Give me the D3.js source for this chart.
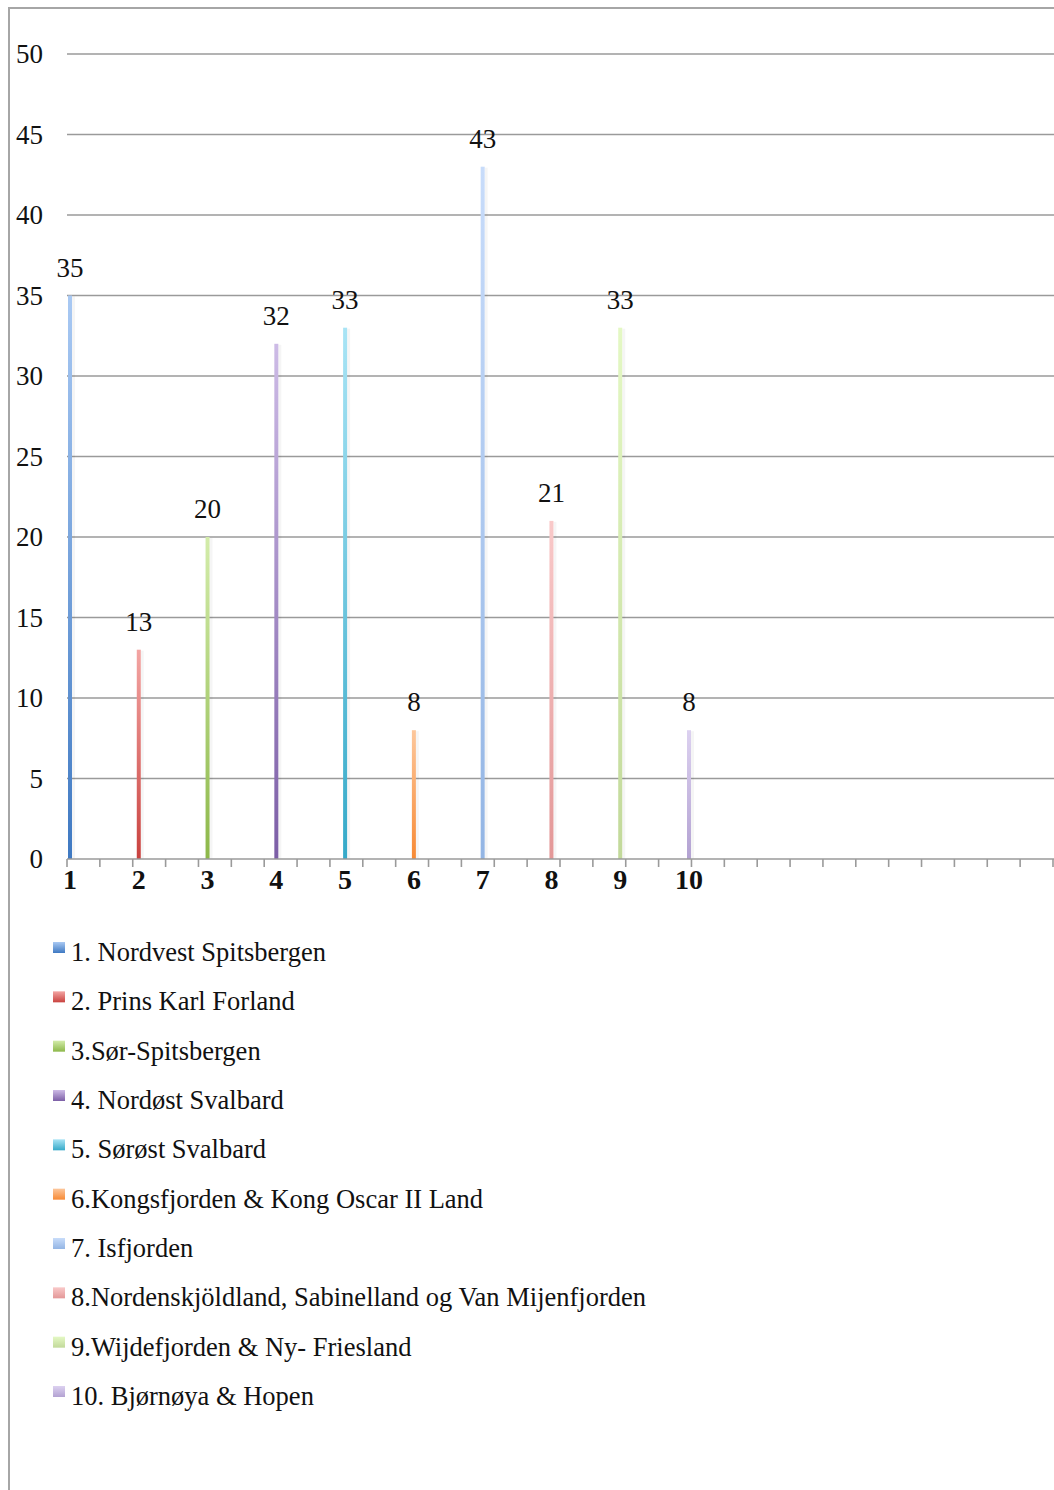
<!DOCTYPE html>
<html>
<head>
<meta charset="utf-8">
<script src="https://cdn.jsdelivr.net/npm/d3@7/dist/d3.min.js"></script>
<style>
  html, body { margin: 0; padding: 0; background: #fff; }
  svg { display: block; }
</style>
</head>
<body>
<svg id="chart" width="1054" height="1490"></svg>
<script>
// Region numbers along the axis
const categories = ["1", "2", "3", "4", "5", "6", "7", "8", "9", "10"];
// Counts per region
const values = [35, 13, 20, 32, 33, 8, 43, 21, 33, 8];
// Legend names
const seriesNames = [
  "1. Nordvest Spitsbergen",
  "2. Prins Karl Forland",
  "3.Sør-Spitsbergen",
  "4. Nordøst Svalbard",
  "5. Sørøst Svalbard",
  "6.Kongsfjorden & Kong Oscar II Land",
  "7. Isfjorden",
  "8.Nordenskjöldland, Sabinelland og Van Mijenfjorden",
  "9.Wijdefjorden & Ny- Friesland",
  "10. Bjørnøya & Hopen"
];
// Value axis ticks
const yTicks = [0, 5, 10, 15, 20, 25, 30, 35, 40, 45, 50];
// Bar colours: [base (bottom), light (top)]
const colors = [
  ["#3f79c2", "#a9c9f3"],
  ["#c9423f", "#f3a5a3"],
  ["#8db84a", "#d3ecaa"],
  ["#7c5ea6", "#cdbbe6"],
  ["#35a9c8", "#a9e4f5"],
  ["#f78a35", "#fcc79c"],
  ["#93b5e4", "#c8dcfa"],
  ["#e39797", "#f9c9c9"],
  ["#c2d99a", "#e4f8c4"],
  ["#b3a2d2", "#dcd1f0"]
];

const svg = d3.select("#chart");
const W = 1054;

// Outer frame
svg.append("rect")
  .attr("x", 9).attr("y", 8)
  .attr("width", W + 20).attr("height", 1600)
  .attr("fill", "none").attr("stroke", "#a6a6a6").attr("stroke-width", 2);

const plotLeft = 67, plotRight = 1054;
const y = d3.scaleLinear().domain([0, 50]).range([859, 54]);
const x = d3.scalePoint().domain(categories).range([70, 689]);
// Category slots of the horizontal axis (tick marks)
const tickScale = d3.scaleLinear().domain([0, 30]).range([67, 1053]);

const defs = svg.append("defs");
colors.forEach((c, i) => {
  const g = defs.append("linearGradient")
    .attr("id", "bar" + i).attr("x1", 0).attr("y1", 0).attr("x2", 0).attr("y2", 1);
  g.append("stop").attr("offset", "0%").attr("stop-color", c[1]);
  g.append("stop").attr("offset", "100%").attr("stop-color", c[0]);
  const s = defs.append("linearGradient")
    .attr("id", "sw" + i).attr("x1", 0).attr("y1", 0).attr("x2", 0).attr("y2", 1);
  s.append("stop").attr("offset", "0%").attr("stop-color", c[1]);
  s.append("stop").attr("offset", "100%").attr("stop-color", c[0]);
});

// Gridlines
svg.append("g").selectAll("line")
  .data(yTicks.filter(d => d > 0))
  .join("line")
  .attr("x1", plotLeft).attr("x2", plotRight)
  .attr("y1", d => y(d)).attr("y2", d => y(d))
  .attr("stroke", "#9a9a9a").attr("stroke-width", 1.6);

// Y tick labels
svg.append("g").selectAll("text")
  .data(yTicks)
  .join("text")
  .attr("x", 43).attr("y", d => y(d))
  .attr("dy", "0.34em")
  .attr("text-anchor", "end")
  .attr("font-family", "'Liberation Serif', serif")
  .attr("font-size", 27)
  .attr("fill", "#111")
  .text(d => d);

// Bars: soft shadow then gradient bar
const barW = 4;
const bars = svg.append("g");
bars.selectAll("rect.shadow")
  .data(values)
  .join("rect")
  .attr("class", "shadow")
  .attr("x", (d, i) => x(categories[i]) + barW / 2)
  .attr("y", d => y(d) + 1)
  .attr("width", 3)
  .attr("height", d => y(0) - y(d) - 1)
  .attr("fill", "#000").attr("opacity", 0.04);
bars.selectAll("rect.bar")
  .data(values)
  .join("rect")
  .attr("class", "bar")
  .attr("x", (d, i) => x(categories[i]) - barW / 2)
  .attr("y", d => y(d))
  .attr("width", barW)
  .attr("height", d => y(0) - y(d))
  .attr("fill", (d, i) => `url(#bar${i})`);

// Value labels
svg.append("g").selectAll("text")
  .data(values)
  .join("text")
  .attr("x", (d, i) => x(categories[i]))
  .attr("y", d => y(d) - 19)
  .attr("text-anchor", "middle")
  .attr("font-family", "'Liberation Serif', serif")
  .attr("font-size", 27)
  .attr("fill", "#111")
  .text(d => d);

// Horizontal axis line and tick marks
svg.append("line")
  .attr("x1", plotLeft).attr("x2", plotRight)
  .attr("y1", y(0)).attr("y2", y(0))
  .attr("stroke", "#9a9a9a").attr("stroke-width", 1.6);
svg.append("g").selectAll("line")
  .data(d3.range(0, 31))
  .join("line")
  .attr("x1", d => tickScale(d)).attr("x2", d => tickScale(d))
  .attr("y1", y(0)).attr("y2", y(0) + 8)
  .attr("stroke", "#9a9a9a").attr("stroke-width", 1.6);

// Category labels
svg.append("g").selectAll("text")
  .data(categories)
  .join("text")
  .attr("x", d => x(d))
  .attr("y", 889)
  .attr("text-anchor", "middle")
  .attr("font-family", "'Liberation Serif', serif")
  .attr("font-weight", "bold")
  .attr("font-size", 28)
  .attr("fill", "#111")
  .text(d => d);

// Legend
const legend = svg.append("g");
const rowY = d3.scaleLinear().domain([0, 9]).range([952, 1396]);
const rows = legend.selectAll("g")
  .data(seriesNames)
  .join("g")
  .attr("transform", (d, i) => `translate(0,${rowY(i)})`);
rows.append("rect")
  .attr("x", 53).attr("y", -10)
  .attr("width", 12).attr("height", 11)
  .attr("fill", (d, i) => `url(#sw${i})`);
rows.append("text")
  .attr("x", 71).attr("y", 9)
  .attr("font-family", "'Liberation Serif', serif")
  .attr("font-size", 26.5)
  .attr("fill", "#111")
  .text(d => d);
</script>
</body>
</html>
